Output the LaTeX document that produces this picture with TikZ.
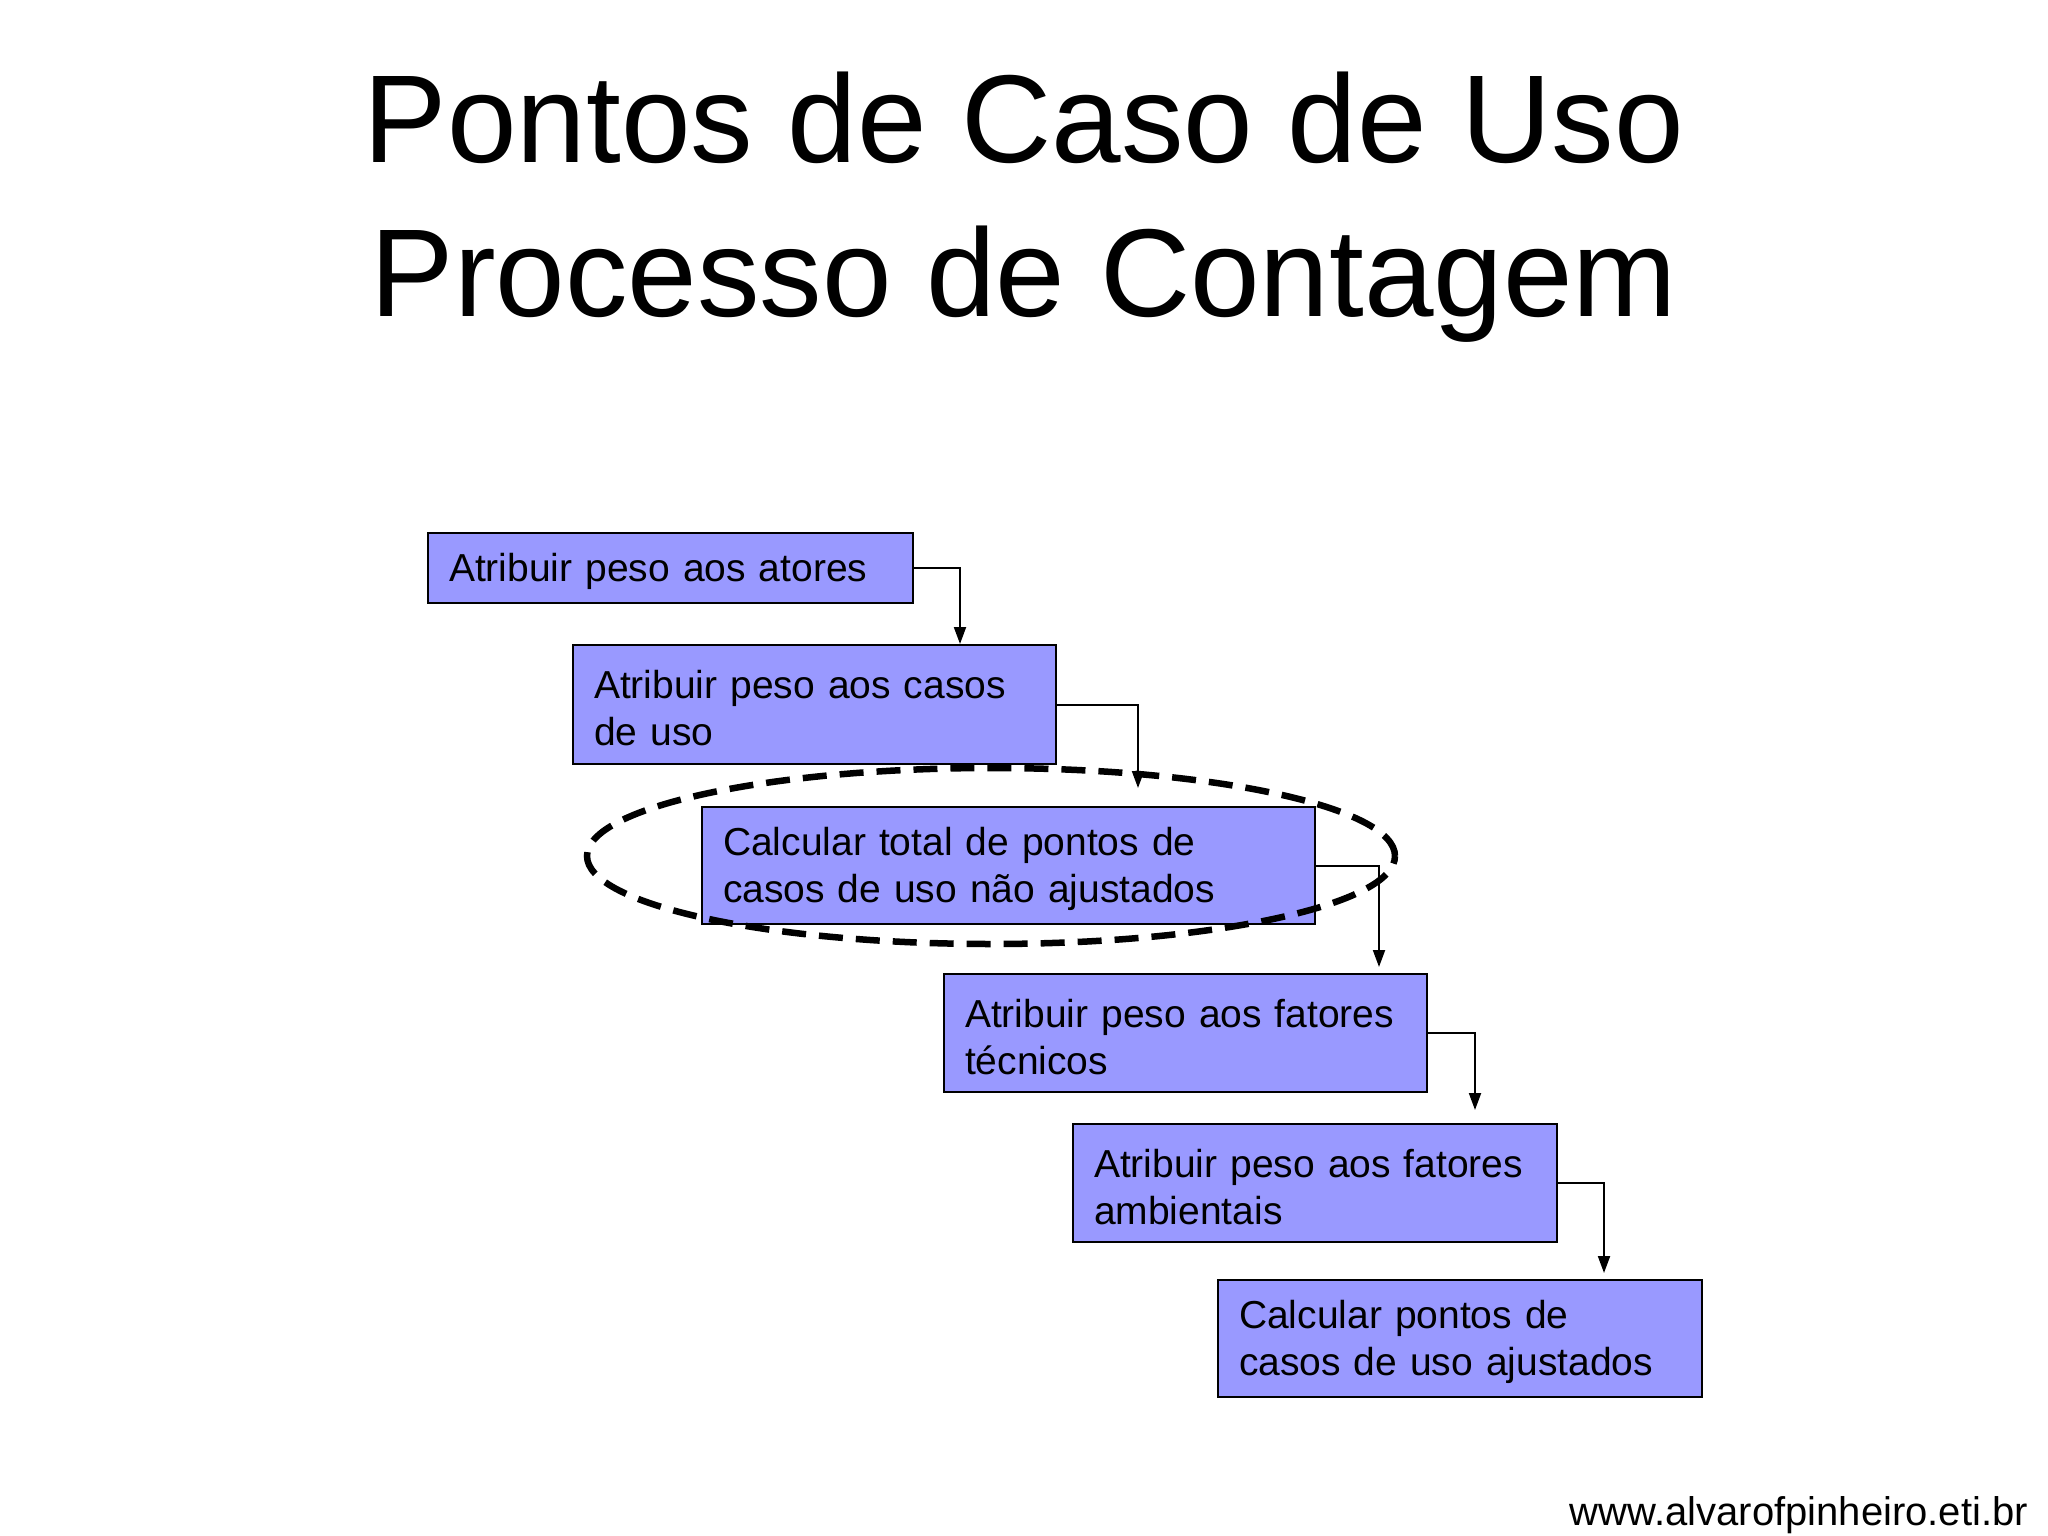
\documentclass[tikz,border=0pt]{standalone}
\usepackage{fontspec}
\setmainfont{Liberation Sans}
\usetikzlibrary{arrows.meta,shapes.geometric}
\definecolor{boxfill}{RGB}{153,153,255}
\tikzset{
  stepbox/.style={draw=black, line width=2pt, fill=boxfill, anchor=north west,
    inner xsep=21pt, inner ysep=0pt, align=left,
    font=\fontsize{39}{47}\selectfont,
    execute at begin node={\rule{0pt}{36pt}}},
  arr/.style={draw=black, line width=2pt, -{Triangle[length=17pt,width=12pt]}},
  ring/.style={draw=black, ellipse, line width=6.5pt, dash pattern=on 24pt off 13pt,
    inner sep=0pt},
  ttl/.style={font=\fontsize{125}{150}\selectfont, anchor=base, inner sep=0pt},
}
\begin{document}
\begin{tikzpicture}[x=1pt,y=-1pt]
\useasboundingbox[fill=white] (0,0) rectangle (2048,1536);
\node[ttl] (t1) at (1024,163) {Pontos de Caso de Uso};
\node[ttl] (t2) at (1024,316) {Processo de Contagem};

\node[stepbox, minimum width=485pt, minimum height=70pt, text width=443pt] (b1) at (427,532) {Atribuir peso aos atores};
\node[stepbox, minimum width=483pt, minimum height=119pt, text width=441pt] (b2) at (572,644) {Atribuir peso aos casos\\de uso};
\node[stepbox, minimum width=613pt, minimum height=117pt, text width=571pt] (b3) at (701,806) {Calcular total de pontos de\\casos de uso não ajustados};
\node[stepbox, minimum width=483pt, minimum height=118pt, text width=441pt] (b4) at (943,973) {Atribuir peso aos fatores\\técnicos};
\node[stepbox, minimum width=484pt, minimum height=118pt, text width=442pt] (b5) at (1072,1123) {Atribuir peso aos fatores\\ambientais};
\node[stepbox, minimum width=484pt, minimum height=117pt, text width=442pt] (b6) at (1217,1279) {Calcular pontos de\\casos de uso ajustados};

\node[ring, minimum width=808pt, minimum height=176pt] (ell) at (991,856) {};

\draw[arr] (b1.east) -| ([xshift=388pt]b2.north west);
\draw[arr, shorten >=18pt] (b2.east) -| ([xshift=437pt]b3.north west);
\draw[arr, shorten >=6pt] (b3.east) -| ([xshift=436pt]b4.north west);
\draw[arr, shorten >=13pt] (b4.east) -| ([xshift=403pt]b5.north west);
\draw[arr, shorten >=6pt] (b5.east) -| ([xshift=387pt]b6.north west);

\node[font=\fontsize{40}{47}\selectfont, anchor=base east, inner sep=0pt] (url) at (2028,1525) {www.alvarofpinheiro.eti.br};
\end{tikzpicture}
\end{document}
